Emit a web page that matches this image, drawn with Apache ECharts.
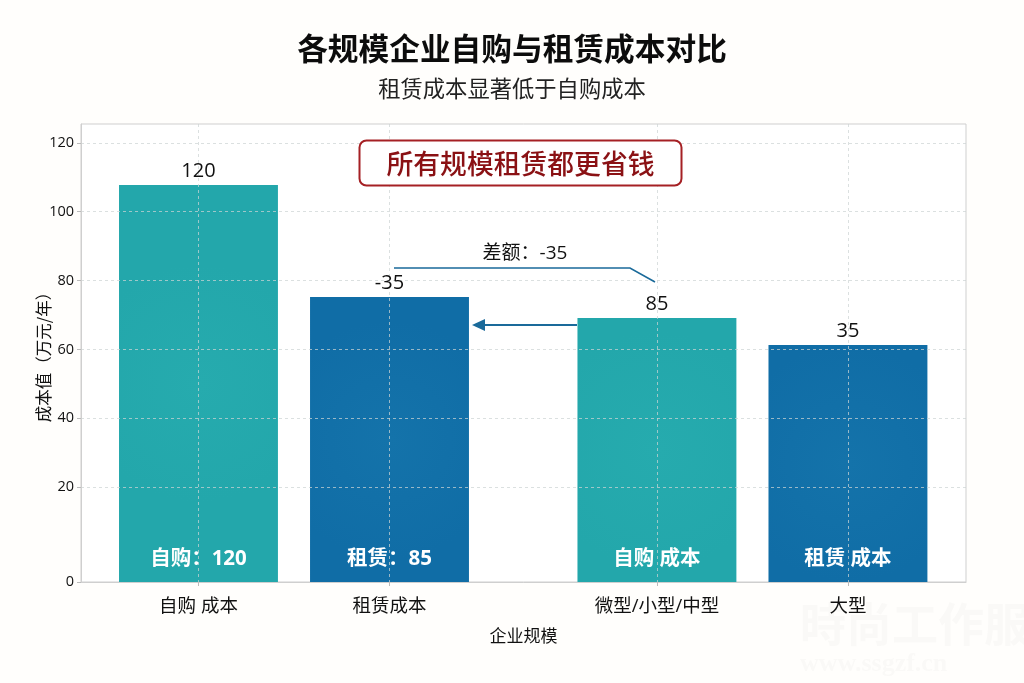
<!DOCTYPE html>
<html><head><meta charset="utf-8">
<script src="https://cdn.jsdelivr.net/npm/echarts@6/dist/echarts.min.js"></script>
<style>
html,body{margin:0;padding:0;width:1024px;height:683px;overflow:hidden;background:#fffefc;}
#c{width:1024px;height:683px}
</style></head><body><div id="c"></div>
<script>
const categories = ['自购 成本','租赁成本','微型/小型/中型','大型'];
const categoryPositions = [0, 1, 2.4, 3.4];
const barValues = [107.8, 75.2, 69.1, 61.3];
const topLabels = ['120','-35','85','35'];
const innerLabels = ['自购：120','租赁：85','自购 成本','租赁 成本'];
const barCenters = ['#26abae','#1473aa','#26abae','#1473aa'];
const barEdges = ['#23a7ab','#106da6','#23a7ab','#106da6'];
const yTicks = [20,40,60,80,100,120];
const yFloor = -7.6, yCeil = 125.5;
const barSpan = 0.832;
const FONT = '"Noto Sans CJK SC","Noto Sans",sans-serif';
const NUMFONT = '"Open Sans","Noto Sans CJK SC",sans-serif';

const gridLine = {show:true,lineStyle:{color:'rgba(205,212,212,0.72)',type:[3,3],width:1}};
const chart = echarts.init(document.getElementById('c'), null, {renderer:'canvas'});
chart.setOption({
  animation:false,
  backgroundColor:'transparent',
  textStyle:{fontFamily:FONT},
  title:[
    {text:'各规模企业自购与租赁成本对比',left:'center',top:28,
     textStyle:{fontSize:30.7,fontWeight:'bold',color:'#0c0c0c',fontFamily:FONT}},
    {text:'租赁成本显著低于自购成本',left:'center',top:72,
     textStyle:{fontSize:22.3,fontWeight:'normal',color:'#222',fontFamily:FONT}}
  ],
  grid:{left:81,right:58,top:124,bottom:101,show:true,borderColor:'#cfcfcf',borderWidth:1,backgroundColor:'#fff'},
  xAxis:{
    type:'value',min:-0.615,max:4.018,
    name:'企业规模',nameLocation:'middle',nameGap:45,nameMoveOverlap:false,
    nameTextStyle:{fontSize:17,color:'#111',fontFamily:FONT},
    axisLine:{onZero:false,lineStyle:{color:'#cfcfcf'}},
    axisTick:{show:true,length:4,customValues:categoryPositions,lineStyle:{color:'#bbb'}},
    axisLabel:{customValues:categoryPositions,fontSize:18.5,color:'#111',margin:15,fontFamily:NUMFONT,
      formatter:v=>categories[categoryPositions.indexOf(v)]||''},
    splitLine:gridLine,
    z:3
  },
  yAxis:{
    type:'value',min:yFloor,max:yCeil,
    name:'成本值（万元/年）',nameLocation:'middle',nameGap:29,nameRotate:90,nameMoveOverlap:false,
    nameTextStyle:{fontSize:16.5,color:'#111',fontFamily:FONT},
    axisLine:{show:true,onZero:false,lineStyle:{color:'#cfcfcf'}},
    axisTick:{show:true,length:4,customValues:[yFloor].concat(yTicks),lineStyle:{color:'#bbb'}},
    axisLabel:{customValues:[yFloor].concat(yTicks),fontSize:14.5,color:'#111',margin:7,fontFamily:NUMFONT,
      formatter:v=>v===yFloor?'0':String(v)},
    splitLine:gridLine,
    z:3
  },
  series:[
    {type:'custom',z:2,silent:true,clip:false,encode:{x:0,y:1},
     data:barValues.map((v,i)=>[categoryPositions[i],v,i]),
     renderItem:(params,api)=>{
       const x=api.value(0), i=api.value(2);
       const top=api.coord([x,api.value(1)]), base=api.coord([x,yFloor]);
       const w=api.size([barSpan,0])[0];
       return {type:'rect',shape:{x:top[0]-w/2,y:top[1],width:w,height:base[1]-top[1]},
         style:{fill:{type:'radial',x:0.5,y:0.5,r:0.75,colorStops:[{offset:0,color:barCenters[i]},{offset:1,color:barEdges[i]}]}}};
     }
    },
    {type:'scatter',symbolSize:0,z:4,silent:true,itemStyle:{opacity:1},
     data:categoryPositions.map((x,i)=>({value:[x,yFloor],label:{formatter:innerLabels[i]}})),
     label:{show:true,position:'top',distance:13,color:'#fff',fontSize:20.5,fontWeight:'bold',fontFamily:NUMFONT}
    },
    {type:'scatter',symbolSize:0,z:4,silent:true,itemStyle:{opacity:1},
     data:barValues.map((v,i)=>({value:[categoryPositions[i],v],label:{formatter:topLabels[i]}})),
     label:{show:true,position:'top',distance:4,color:'#111',fontSize:20,fontFamily:NUMFONT}
    }
  ],
  graphic:[
    {type:'rect',z:10,shape:{x:359.5,y:140.5,width:322,height:45,r:7},
     style:{fill:'#fff',stroke:'#a52024',lineWidth:2}},
    {type:'text',z:11,x:520.5,y:164,style:{text:'所有规模租赁都更省钱',fill:'#8a1114',font:'500 26.8px '+FONT,textAlign:'center',textVerticalAlign:'middle'}},
    {type:'text',z:11,x:525,y:254,style:{text:'差额：-35',fill:'#111',font:'19px '+NUMFONT,textAlign:'center',textVerticalAlign:'middle'}},
    {type:'polyline',z:11,shape:{points:[[394,268],[630,268],[655,282]]},style:{stroke:'#1a6a9a',lineWidth:1.6,fill:null}},
    {type:'line',z:11,shape:{x1:577,y1:325,x2:482,y2:325},style:{stroke:'#1a6a9a',lineWidth:2}},
    {type:'polygon',z:11,shape:{points:[[472,325],[485,319],[485,331]]},style:{fill:'#1a6a9a'}},
    {type:'text',z:1,x:800,y:624,style:{text:'時尚工作服',fill:'rgba(120,120,100,0.035)',font:'bold 46px '+FONT,textVerticalAlign:'middle'}},
    {type:'text',z:1,x:800,y:664,style:{text:'www.ssgzf.cn',fill:'rgba(120,120,100,0.035)',font:'bold 26px "Liberation Serif"',textVerticalAlign:'middle'}}
  ]
});
</script></body></html>
